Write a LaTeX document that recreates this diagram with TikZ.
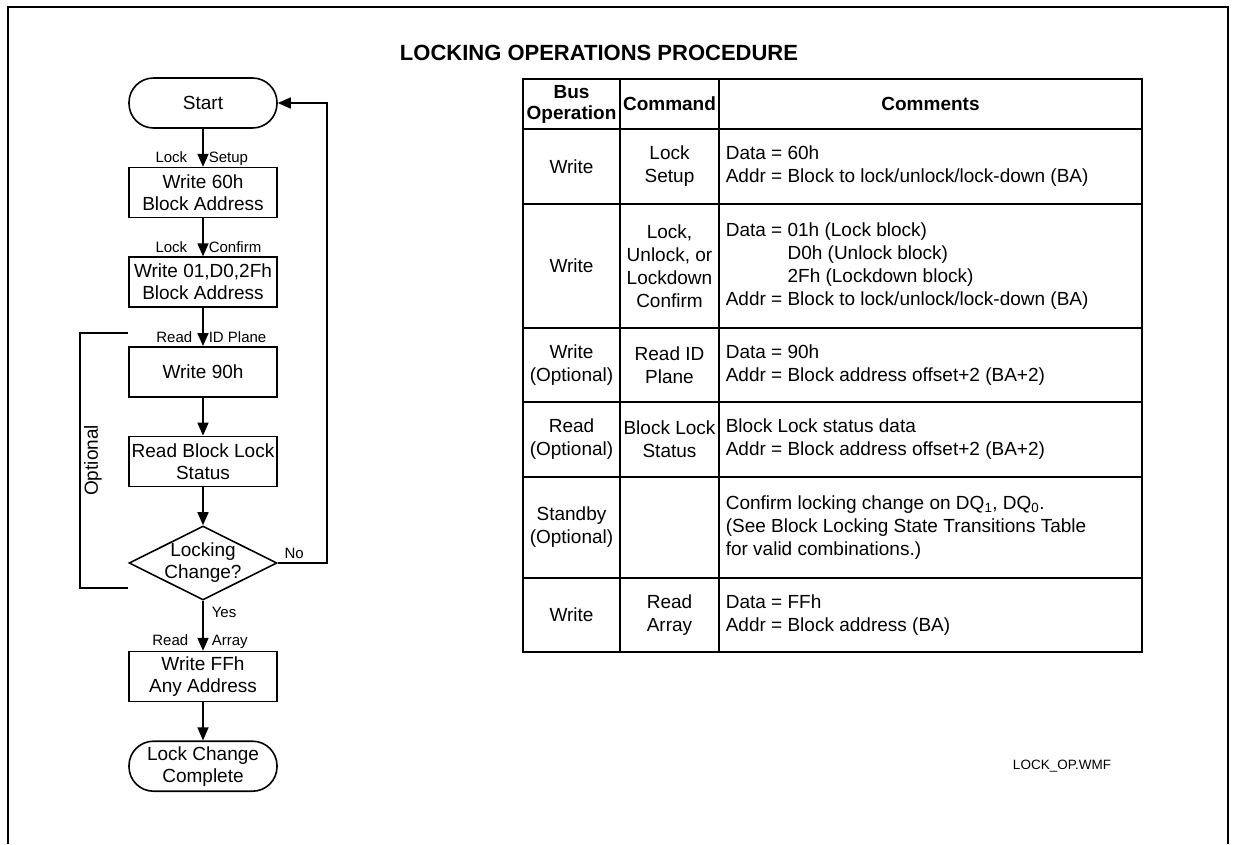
\documentclass[tikz,border=0pt]{standalone}
\usepackage{fontspec}
\setmainfont{Liberation Sans}
\usetikzlibrary{shapes.geometric, arrows.meta, positioning}

\begin{document}
\begin{tikzpicture}[x=1pt, y=-1pt, node distance=38pt, line width=1.6pt, >={Triangle[length=13pt,width=11pt]}]
\tikzstyle{term} = [rectangle, rounded corners=24.5pt, minimum width=148pt, minimum height=50pt, inner sep=0pt, draw, align=center, font=\fontsize{19}{22}\selectfont]
\tikzstyle{proc} = [rectangle, minimum width=148pt, minimum height=50pt, inner sep=0pt, draw, align=center, font=\fontsize{19}{22}\selectfont]
\tikzstyle{decision} = [diamond, minimum width=148pt, minimum height=74pt, inner sep=0pt, draw]
\tikzstyle{lbl} = [inner sep=0pt, font=\fontsize{15}{17}\selectfont]
\tikzstyle{hdr} = [inner sep=0pt, align=center, font=\bfseries\fontsize{19}{21}\selectfont]
\tikzstyle{cell} = [inner sep=0pt, align=center, font=\fontsize{19}{23}\selectfont]
\tikzstyle{note} = [inner sep=0pt, anchor=west, align=left, font=\fontsize{19}{23}\selectfont]

\useasboundingbox (0,0) rectangle (1235,844);
\draw (8,844) -- (8,7) -- (1228,7) -- (1228,844);

\node (title) [font=\bfseries\fontsize{22}{26}\selectfont] at (599,53) {LOCKING OPERATIONS PROCEDURE};

% flow chart
\node (start) [term] at (203,103) {Start};
\node (setup) [proc, below=of start] {Write 60h\\Block Address};
\node (confirm) [proc, below=of setup] {Write 01,D0,2Fh\\Block Address};
\node (idplane) [proc, below=of confirm] {Write 90h};
\node (status) [proc, below=of idplane] {Read Block Lock\\Status};
\node (change) [decision, below=of status] {};
\node (changetxt) [align=center, inner sep=0pt, font=\fontsize{19}{22}\selectfont] at (change) {Locking\\Change?};
\node (array) [proc, below=50pt of change] {Write FFh\\Any Address};
\node (done) [term, below=of array] {Lock Change\\Complete};

\foreach \a/\b in {start/setup, setup/confirm, confirm/idplane, idplane/status, status/change, change/array, array/done} {
    \draw[->] (\a.south) -- (\b.north);
}

\node (setupL) [lbl, anchor=base east] at ([xshift=-15pt,yshift=4pt]setup.north) {Lock};
\node (setupR) [lbl, anchor=base west] at ([xshift=5pt,yshift=4pt]setup.north) {Setup};
\node (confirmL) [lbl, anchor=base east] at ([xshift=-15pt,yshift=4pt]confirm.north) {Lock};
\node (confirmR) [lbl, anchor=base west] at ([xshift=5pt,yshift=4pt]confirm.north) {Confirm};
\node (idplaneL) [lbl, anchor=base east] at ([xshift=-10pt,yshift=4pt]idplane.north) {Read};
\node (idplaneR) [lbl, anchor=base west] at ([xshift=5pt,yshift=4pt]idplane.north) {ID Plane};
\node (arrayL) [lbl, anchor=base east] at ([xshift=-14pt,yshift=5pt]array.north) {Read};
\node (arrayR) [lbl, anchor=base west] at ([xshift=8pt,yshift=5pt]array.north) {Array};
\node (yes) [lbl, anchor=base west] at ([xshift=8pt,yshift=-17pt]change.south) {Yes};
\node (no) [lbl, anchor=base west] at ([xshift=6pt,yshift=5pt]change.east) {No};

\draw[->] (change.east) -- ++(49,0) |- (start.east);

\coordinate (opttop) at ([yshift=13pt]idplane.north west);
\coordinate (optbot) at ([yshift=13pt]change.south);
\draw (opttop) -- ++(-48,0) |- node[pos=0.25, rotate=90, anchor=north, inner sep=3pt, font=\fontsize{19}{22}\selectfont] (optional) {Optional} (optbot -| opttop);

% table
\draw (523,79) rectangle (1142,652);
\foreach \y in {129,204,328,402,477,578} {
    \draw (523,\y) -- (1142,\y);
}
\foreach \x in {620,719} {
    \draw (\x,79) -- (\x,652);
}

\node (hbus) [hdr] at (571.5,104) {Bus\\Operation};
\node (hcmd) [hdr] at (669.5,104) {Command};
\node (hcom) [hdr] at (930.5,104) {Comments};

\node (op1) [cell] at (571.5,166.5) {Write};
\node (cmd1) [cell] at (669.5,166.5) {Lock\\Setup};
\node (note1) [note] at (725,166.5) {Data = 60h\\Addr = Block to lock/unlock/lock-down (BA)};

\node (op2) [cell] at (571.5,266) {Write};
\node (cmd2) [cell] at (669.5,266) {Lock,\\Unlock, or\\Lockdown\\Confirm};
\node (note2) [note] at (725,266) {Data = 01h (Lock block)\\\phantom{Data = }D0h (Unlock block)\\\phantom{Data = }2Fh (Lockdown block)\\Addr = Block to lock/unlock/lock-down (BA)};

\node (op3) [cell] at (571.5,365) {Write\\(Optional)};
\node (cmd3) [cell] at (669.5,365) {Read ID\\Plane};
\node (note3) [note] at (725,365) {Data = 90h\\Addr = Block address offset+2 (BA+2)};

\node (op4) [cell] at (571.5,439.5) {Read\\(Optional)};
\node (cmd4) [cell] at (669.5,439.5) {Block Lock\\Status};
\node (note4) [note] at (725,439.5) {Block Lock status data\\Addr = Block address offset+2 (BA+2)};

\node (op5) [cell] at (571.5,527.5) {Standby\\(Optional)};
\node (note5) [note] at (725,527.5) {Confirm locking change on DQ\textsubscript{1}, DQ\textsubscript{0}.\\(See Block Locking State Transitions Table\\for valid combinations.)};

\node (op6) [cell] at (571.5,615) {Write};
\node (cmd6) [cell] at (669.5,615) {Read\\Array};
\node (note6) [note] at (725,615) {Data = FFh\\Addr = Block address (BA)};

\node (fname) [font=\fontsize{13.5}{16}\selectfont] at (1062,766) {LOCK\_OP.WMF};

\end{tikzpicture}
\end{document}
